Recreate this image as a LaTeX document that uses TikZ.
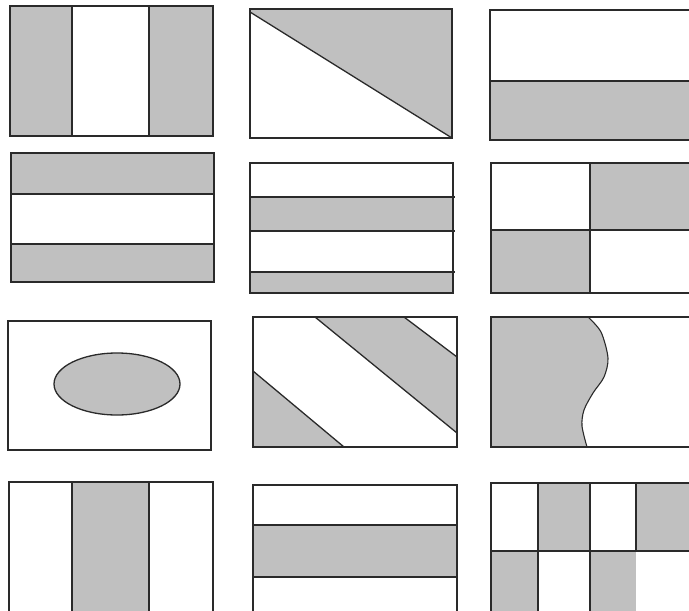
\documentclass[tikz,border=0pt]{standalone}
\definecolor{flaggray}{HTML}{C0C0C0}
\definecolor{edge}{HTML}{2A2A2A}
\begin{document}
\begin{tikzpicture}[x=1pt,y=-1pt,
  ln/.style={draw=edge,line width=1.3pt},
  gr/.style={fill=flaggray}]
\useasboundingbox (0,0) rectangle (689,611);
\clip (0,0) rectangle (689,611);
% Panel 1: vertical tricolour, outer gray
\fill[gr] (10,6) rectangle (72,136);
\fill[gr] (149,6) rectangle (213,136);
\draw[ln] (10,6) rectangle (213,136);
\draw[ln] (72,6) -- (72,136) (149,6) -- (149,136);
% Panel 2: diagonal
\fill[gr] (250,12) -- (250,9) -- (452,9) -- (452,138) -- cycle;
\draw[ln] (250,9) rectangle (452,138);
\draw[ln] (250,12) -- (452,138);
% Panel 3: lower half gray
\fill[gr] (490,81) rectangle (700,140);
\draw[ln] (700,10) -- (490,10) -- (490,140) -- (700,140);
\draw[ln] (490,81) -- (700,81);
% Panel 4: top and bottom gray
\fill[gr] (11,153) rectangle (214,194);
\fill[gr] (11,244) rectangle (214,282);
\draw[ln] (11,153) rectangle (214,282);
\draw[ln] (11,194) -- (214,194) (11,244) -- (214,244);
% Panel 5: four bands
\fill[gr] (250,197) rectangle (453,231);
\fill[gr] (250,272) rectangle (453,293);
\draw[ln] (250,163) rectangle (453,293);
\draw[ln] (250,197) -- (455,197) (250,231) -- (455,231) (250,272) -- (455,272);
% Panel 6: quarters
\fill[gr] (590,163) rectangle (700,230);
\fill[gr] (491,230) rectangle (590,293);
\draw[ln] (700,163) -- (491,163) -- (491,293) -- (700,293);
\draw[ln] (590,163) -- (590,293) (491,230) -- (700,230);
% Panel 7: ellipse
\draw[ln] (8,321) rectangle (211,450);
\draw[ln,gr] (117,384) ellipse [x radius=63,y radius=31];
% Panel 8: diagonal bands
\fill[gr] (253,371) -- (344,447) -- (253,447) -- cycle;
\fill[gr] (315,317) -- (404,317) -- (457,357) -- (457,433) -- cycle;
\draw[ln] (253,317) rectangle (457,447);
\draw[ln] (253,371) -- (344,447);
\draw[ln] (315,317) -- (457,433);
\draw[ln] (404,317) -- (457,357);
% Panel 9: wavy edge
\fill[gr] (491,317) -- plot[smooth] coordinates {(588,317) (601,332) (608,358) (604,377) (593,393) (584,410) (582,426) (587,447)}
  -- (491,447) -- cycle;
\draw[ln] (700,317) -- (491,317) -- (491,447) -- (700,447);
\draw[draw=edge,line width=1.1pt] plot[smooth] coordinates {(588,317) (601,332) (608,358) (604,377) (593,393) (584,410) (582,426) (587,447)};
% Panel 10: middle stripe gray
\fill[gr] (72,482) rectangle (149,620);
\draw[ln] (9,620) -- (9,482) -- (213,482) -- (213,620);
\draw[ln] (72,482) -- (72,620) (149,482) -- (149,620);
% Panel 11: middle band gray
\fill[gr] (253,525) rectangle (457,577);
\draw[ln] (253,620) -- (253,485) -- (457,485) -- (457,620);
\draw[ln] (253,525) -- (457,525) (253,577) -- (457,577);
% Panel 12: checker
\fill[gr] (538,483) rectangle (590,551);
\fill[gr] (636,483) rectangle (700,551);
\fill[gr] (491,551) rectangle (538,620);
\fill[gr] (590,551) rectangle (636,620);
\draw[ln] (491,620) -- (491,483) -- (700,483);
\draw[ln] (538,483) -- (538,620) (590,483) -- (590,620) (636,483) -- (636,551);
\draw[ln] (491,551) -- (700,551);
\end{tikzpicture}
\end{document}
